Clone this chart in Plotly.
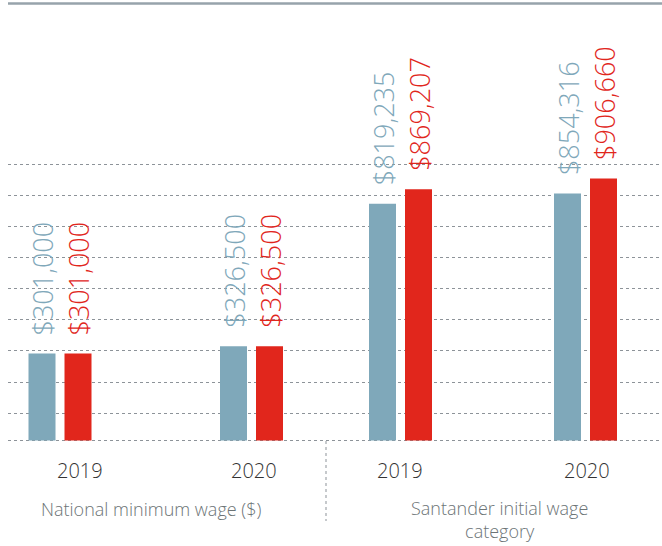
import plotly.graph_objects as go

# ---- data ----
groups = ["National minimum wage ($)", "Santander initial wage<br>category"]
years = ["2019", "2020", "2019", "2020"]
series_a = [301000, 326500, 819235, 854316]   # blue
series_b = [301000, 326500, 869207, 906660]   # red
labels_a = ["$301,000", "$326,500", "$819,235", "$854,316"]
labels_b = ["$301,000", "$326,500", "$869,207", "$906,660"]

# ---- layout parameters (pixels) ----
W, H = 662, 546
group_x = [60, 251.5, 400.5, 585.5]
year_label_x = [79.5, 253.5, 400, 587]
bar_off = 18
bar_w = 27
zero_px = 440.5
k = 2.89e-4  # px per dollar
grid_first = 27.3
grid_step = 31.15
n_grid = 9

BLUE = "#7fa8ba"
RED = "#e1261c"
GRID = "#8d9399"

r0 = -(H - zero_px) / k
r1 = zero_px / k
tickvals = [0] + [(grid_first + i * grid_step) / k for i in range(n_grid)]

fig = go.Figure()
fig.add_trace(go.Bar(x=[g - bar_off for g in group_x], y=series_a, width=bar_w,
                     marker=dict(color=BLUE, line=dict(width=0)), hoverinfo="skip"))
fig.add_trace(go.Bar(x=[g + bar_off for g in group_x], y=series_b, width=bar_w,
                     marker=dict(color=RED, line=dict(width=0)), hoverinfo="skip"))

ann = []
vfont = "Open Sans"
for i, g in enumerate(group_x):
    ann.append(dict(x=g - bar_off + 1, y=series_a[i], text=labels_a[i], textangle=-90,
                    xanchor="center", yanchor="bottom", yshift=16, showarrow=False,
                    font=dict(family=vfont, size=27, weight=300, color=BLUE)))
    ann.append(dict(x=g + bar_off + 1, y=series_b[i], text=labels_b[i], textangle=-90,
                    xanchor="center", yanchor="bottom", yshift=16, showarrow=False,
                    font=dict(family=vfont, size=27, weight=300, color=RED)))
    ann.append(dict(x=year_label_x[i], y=1 - 470 / H, yref="paper", text=years[i],
                    xanchor="center", yanchor="middle", showarrow=False,
                    font=dict(family="Open Sans", size=20, weight=300, color="#333333")))
ann.append(dict(x=150.5, y=1 - 509 / H, yref="paper", text=groups[0], showarrow=False,
                xanchor="center", yanchor="middle",
                font=dict(family="Open Sans", size=18, weight=300, color="#6c7476")))
ann.append(dict(x=499, y=1 - 519.5 / H, yref="paper", text=groups[1], showarrow=False,
                xanchor="center", yanchor="middle",
                font=dict(family="Open Sans", size=18, weight=300, color="#6c7476")))

shapes = [
    dict(type="line", xref="x", yref="paper", x0=5, x1=W, y0=1 - 3.5 / H, y1=1 - 3.5 / H,
         line=dict(color="#97a3ab", width=2.5)),
    dict(type="line", xref="x", yref="paper", x0=326, x1=326, y0=1 - 441 / H, y1=1 - 521 / H,
         line=dict(color=GRID, width=1, dash="dot")),
]

fig.update_layout(
    width=W, height=H,
    margin=dict(l=8, r=0, t=0, b=0),
    paper_bgcolor="white", plot_bgcolor="white",
    showlegend=False, barmode="overlay",
    annotations=ann, shapes=shapes,
    xaxis=dict(range=[8, W], showgrid=False, zeroline=False, showticklabels=False,
               ticks="", fixedrange=True),
    yaxis=dict(range=[r0, r1], tickvals=tickvals, showticklabels=False, ticks="",
               showgrid=True, gridcolor=GRID, gridwidth=1, griddash="dot",
               zeroline=False, fixedrange=True),
)
fig.update_traces(cliponaxis=False)

fig.write_html("out.html")
